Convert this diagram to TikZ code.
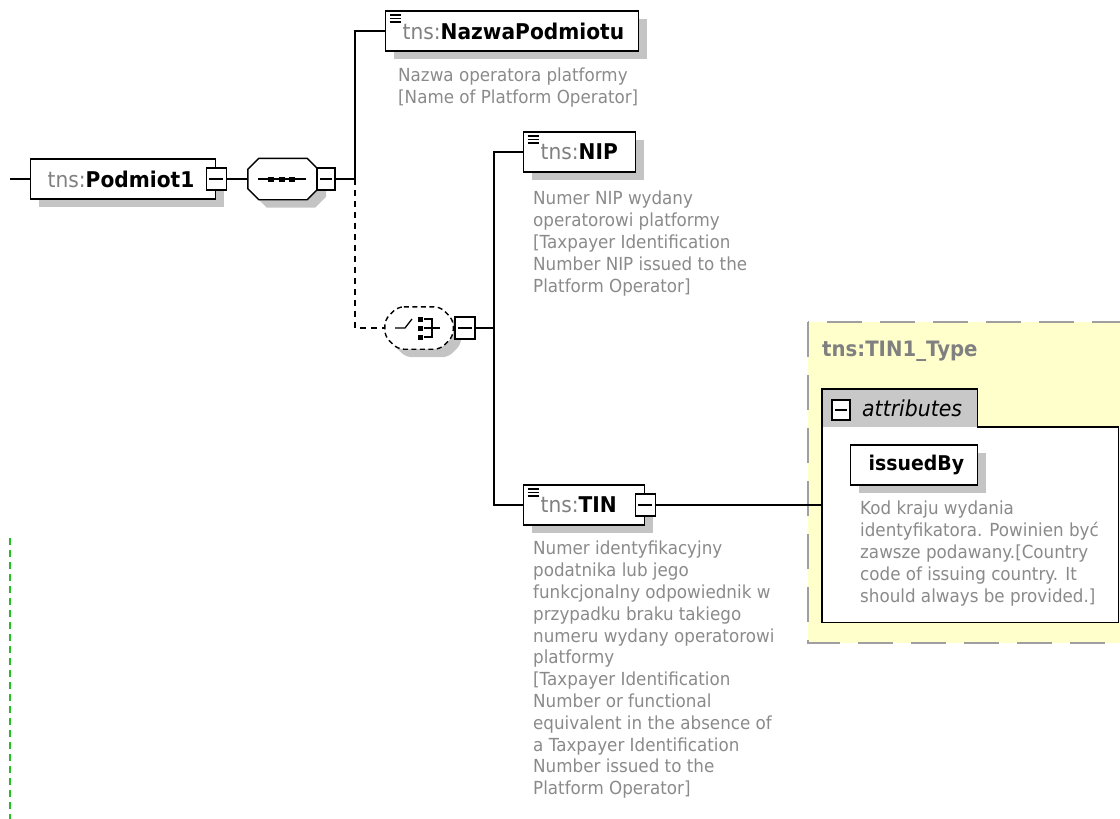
\documentclass[tikz,border=0pt]{standalone}
\usepackage{fontspec}
\setmainfont[FakeStretch=0.93]{DejaVu Sans}
\usetikzlibrary{shadows,calc}

\definecolor{tnsgray}{HTML}{808080}
\definecolor{descgray}{HTML}{8A8A8A}
\definecolor{shadowgray}{HTML}{C4C4C4}
\definecolor{typeyellow}{HTML}{FFFFCC}
\definecolor{tabgray}{HTML}{C8C8C8}
\definecolor{guidegreen}{HTML}{22C022}

\newcommand{\tns}{{\mdseries\color{tnsgray}tns:}}

\tikzset{
  shade box/.style={general shadow={fill=shadowgray, shadow xshift=8pt, shadow yshift=-8pt}},
  elem/.style={draw, fill=white, line width=1.4pt, shade box, minimum height=40pt,
    inner xsep=17pt, inner ysep=0pt, align=left, anchor=west,
    font=\fontsize{21.7}{25}\selectfont\bfseries},
  mbox/.style={draw, fill=white, line width=1.3pt, minimum width=20pt, minimum height=22pt, inner sep=0pt,
    path picture={\draw[line width=1.3pt] ([xshift=3pt]path picture bounding box.west)
      -- ([xshift=-3pt]path picture bounding box.east);}},
  desc/.style={anchor=north west, align=left, inner sep=0pt, text=descgray,
    font=\fontsize{18}{21.8}\selectfont},
  compositor/.style={minimum width=70pt, minimum height=41pt, inner sep=0pt},
  octa/.style={draw, fill=white, line width=1.4pt, shade box},
  conn/.style={line width=1.3pt},
}

\begin{document}
\begin{tikzpicture}[x=1pt,y=-1pt]
\useasboundingbox (0,0) rectangle (1120,819);

% complex type box
\draw[fill=typeyellow, draw=gray!75, line width=1.5pt, dash pattern=on 35pt off 18pt] (808,322) rectangle (1150,643);
\node[anchor=west, inner sep=0pt, text=tnsgray, font=\fontsize{21.2}{24}\selectfont\bfseries] (tintype) at (822,351) {tns:TIN1\_Type};
\node[anchor=north west, fill=tabgray, minimum width=155pt, minimum height=38pt, inner sep=0pt] (attrtab) at (822,389) {};
\node[anchor=north west, fill=white, minimum width=296pt, minimum height=195pt, inner sep=0pt] (attrbody) at (822,427) {};
\draw[line width=1.5pt] (attrtab.south west) |- (attrtab.north east) |- (attrbody.north east) |- (attrbody.south west) -- cycle;
\node[mbox, minimum width=18pt, minimum height=20pt] (attr-mx) at (841,410) {};
\node[anchor=west, inner sep=0pt, font=\fontsize{22}{24}\selectfont\itshape] (attr-lbl) at (862,408) {attributes};

% compositors
\node[compositor] (seq) at (283,179) {};
\node[compositor, minimum width=68pt, minimum height=42pt] (choice) at (419,328) {};
\draw[octa] ($(seq.north west)+(11,0)$) -- ($(seq.north east)+(-11,0)$) -- ($(seq.north east)+(0,11)$)
  -- ($(seq.south east)+(0,-11)$) -- ($(seq.south east)+(-11,0)$) -- ($(seq.south west)+(11,0)$)
  -- ($(seq.south west)+(0,-11)$) -- ($(seq.north west)+(0,11)$) -- cycle;
\draw[octa, dash pattern=on 5pt off 3.5pt, rounded corners=6pt] ($(choice.north west)+(13,0)$) -- ($(choice.north east)+(-13,0)$) -- ($(choice.north east)+(0,13)$)
  -- ($(choice.south east)+(0,-13)$) -- ($(choice.south east)+(-13,0)$) -- ($(choice.south west)+(13,0)$)
  -- ($(choice.south west)+(0,-13)$) -- ($(choice.north west)+(0,13)$) -- cycle;
\node[mbox, minimum width=18pt, anchor=west] (seq-mx) at ([xshift=-2pt]seq.east) {};
\node[mbox, anchor=west] (choice-mx) at ([xshift=1pt]choice.east) {};

% elements
\node[elem, text width=151pt] (podmiot) at (30,179) {\tns Podmiot1};
\node[mbox] (podmiot-mx) at (podmiot.east) {};
\node[elem, text width=219pt] (nazwa) at (385,31) {\tns NazwaPodmiotu};
\node[elem, text width=78pt] (nip) at (523,152) {\tns NIP};
\node[elem, text width=87pt] (tin) at (523,505) {\tns TIN};
\node[mbox] (tin-mx) at (tin.east) {};
\node[elem, text width=91pt, inner xsep=18pt, font=\fontsize{20.3}{24}\selectfont\bfseries] (issued) at (850,465) {issuedBy};

% simple content marks
\foreach \n in {nazwa,nip,tin}
  \foreach \k in {0,1,2}
    \draw[line width=1.5pt] ($(\n.north west)+(4.5,4.5+3.6*\k)$) -- ++(11,0);

% compositor symbols
\draw[line width=1.4pt] ($(seq.center)+(-25,0)$) -- ($(seq.center)+(23,0)$);
\foreach \d in {-12,-1.5,9} \fill ($(seq.center)+(\d-3,-2.5)$) rectangle ++(6,5);
\begin{scope}[shift={(choice.center)}, line width=1.3pt]
  \draw (-24,0) -- (-14,0) -- (-7,-9);
  \foreach \d in {-9,0,9} \fill (-1.5,\d-2.5) rectangle ++(5,5);
  \draw (5,-9) -- (13,-9) -- (13,9) -- (5,9);
  \draw (5,0) -- (21,0);
\end{scope}

% connectors
\coordinate (start) at (10,179);
\coordinate (branch) at (355,179);
\coordinate (fork) at (494,328);
\draw[conn] (start) -- (podmiot);
\draw[conn] (podmiot-mx) -- (seq);
\draw[conn] (seq-mx) -- (branch) |- (nazwa);
\draw[conn, dash pattern=on 6pt off 5pt] (branch) |- (choice);
\draw[conn] (choice-mx) -- (fork);
\draw[conn] (fork) |- (nip);
\draw[conn] (fork) |- (tin);
\draw[conn] (tin-mx) -- (tin-mx -| attrbody.west);

% annotations
\node[desc] (nazwa-d) at (398,68) {Nazwa operatora platformy\\{}[Name of Platform Operator]};
\node[desc] (nip-d) at (533,191) {Numer NIP wydany\\operatorowi platformy\\{}[Taxpayer Identification\\Number NIP issued to the\\Platform Operator]};
\node[desc] (tin-d) at (533,541) {Numer identyfikacyjny\\podatnika lub jego\\funkcjonalny odpowiednik w\\przypadku braku takiego\\numeru wydany operatorowi\\platformy\\{}[Taxpayer Identification\\Number or functional\\equivalent in the absence of\\a Taxpayer Identification\\Number issued to the\\Platform Operator]};
\node[desc] (issued-d) at (860,501) {Kod kraju wydania\\identyfikatora. Powinien być\\zawsze podawany.[Country\\code of issuing country. It\\should always be provided.]};

% guide line
\draw[guidegreen, line width=1.3pt, dash pattern=on 7pt off 5pt] (10,538) -- (10,819);
\end{tikzpicture}
\end{document}
